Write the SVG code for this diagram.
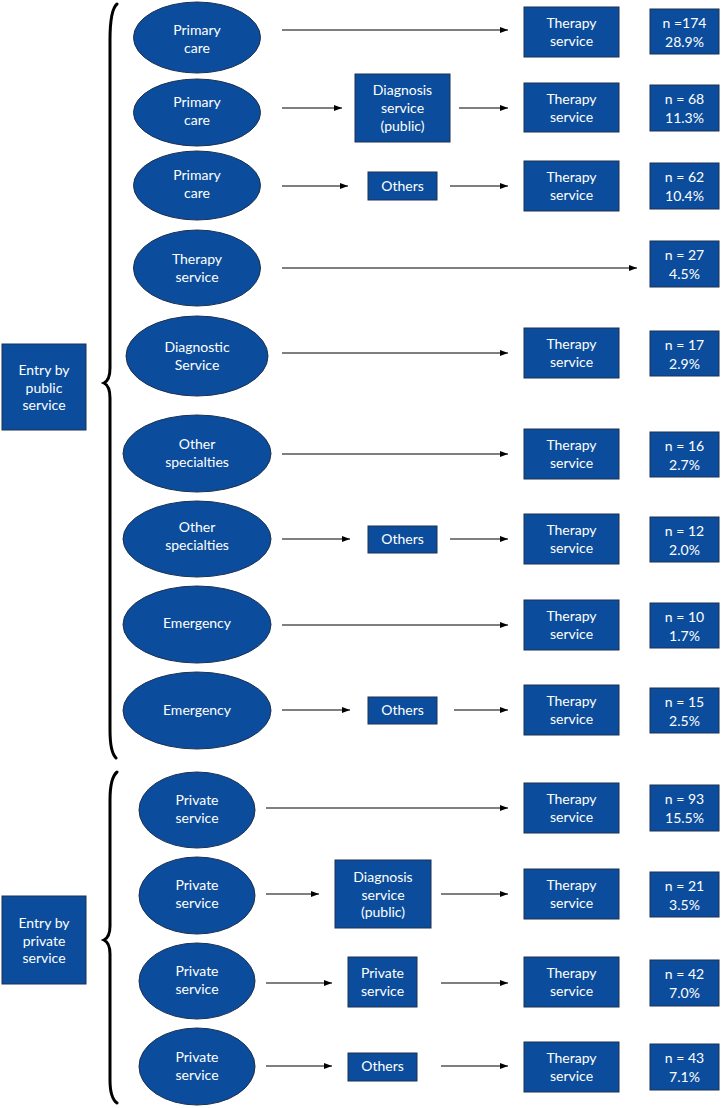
<svg xmlns="http://www.w3.org/2000/svg" width="721" height="1108" viewBox="0 0 721 1108">
<style>
.n{fill:#0b4d9c;stroke:#1c3050;stroke-width:1}
.t{fill:#ffffff;font-family:Lato,"Open Sans",sans-serif;font-size:14px;text-anchor:middle}
.c{stroke:#000;stroke-width:1.2;fill:none;marker-end:url(#ah)}
.b{stroke:#000;stroke-width:3;fill:none;stroke-linecap:round}
</style>
<defs>
<marker id="ah" markerUnits="userSpaceOnUse" markerWidth="9" markerHeight="7" refX="8" refY="3" orient="auto">
<path d="M0,0 L8,3 L0,6 z" fill="#000"/>
</marker>
</defs>
<rect width="721" height="1108" fill="#fff"/>

<g id="braces">
<path class="b" d="M117,4 Q110,10 110,40 L110,368 Q110,380 104,383 Q110,386 110,398 L110,730 Q110,752 116,758"/>
<path class="b" d="M117,772 Q110,778 110,800 L110,926 Q110,937 104,940 Q110,943 110,954 L110,1080 Q110,1098 117,1103"/>
</g>

<g id="connectors">
<line class="c" x1="282" y1="30" x2="508" y2="30"/>
<line class="c" x1="282" y1="108" x2="342" y2="108"/>
<line class="c" x1="459" y1="108" x2="508" y2="108"/>
<line class="c" x1="282" y1="186" x2="348" y2="186"/>
<line class="c" x1="450" y1="186" x2="508" y2="186"/>
<line class="c" x1="282" y1="268" x2="637" y2="268"/>
<line class="c" x1="282" y1="353" x2="508" y2="353"/>
<line class="c" x1="282" y1="454" x2="508" y2="454"/>
<line class="c" x1="282" y1="539" x2="350" y2="539"/>
<line class="c" x1="450" y1="539" x2="508" y2="539"/>
<line class="c" x1="282" y1="625" x2="508" y2="625"/>
<line class="c" x1="282" y1="710" x2="350" y2="710"/>
<line class="c" x1="454" y1="710" x2="508" y2="710"/>
<line class="c" x1="266" y1="808" x2="508" y2="808"/>
<line class="c" x1="266" y1="894" x2="319" y2="894"/>
<line class="c" x1="441" y1="894" x2="508" y2="894"/>
<line class="c" x1="266" y1="983" x2="332" y2="983"/>
<line class="c" x1="441" y1="983" x2="508" y2="983"/>
<line class="c" x1="266" y1="1066" x2="332" y2="1066"/>
<line class="c" x1="441" y1="1066" x2="508" y2="1066"/>
</g>

<g id="entry-public"><rect class="n" x="2" y="344" width="84" height="86"/><text class="t" x="44" y="375">Entry by<tspan x="44" dy="17.5">public</tspan><tspan x="44" dy="17.5">service</tspan></text></g>
<g id="entry-private"><rect class="n" x="2" y="896" width="84" height="88"/><text class="t" x="44" y="928">Entry by<tspan x="44" dy="17.5">private</tspan><tspan x="44" dy="17.5">service</tspan></text></g>

<!-- Row 1 -->
<g id="e1"><ellipse class="n" cx="197" cy="37.5" rx="63.5" ry="35.5"/><text class="t" x="197" y="35">Primary<tspan x="197" dy="18">care</tspan></text></g>
<g id="t1"><rect class="n" x="524" y="7" width="95" height="50"/><text class="t" x="571.5" y="28">Therapy<tspan x="571.5" dy="18">service</tspan></text></g>
<g id="n1"><rect class="n" x="650" y="9" width="69" height="45"/><text class="t" x="684.5" y="28">n =174<tspan x="684.5" dy="18.5">28.9%</tspan></text></g>

<!-- Row 2 -->
<g id="e2"><ellipse class="n" cx="197" cy="112.5" rx="63.5" ry="33.5"/><text class="t" x="197" y="107">Primary<tspan x="197" dy="18">care</tspan></text></g>
<g id="d2"><rect class="n" x="355" y="74" width="95" height="68"/><text class="t" x="402.5" y="95">Diagnosis<tspan x="402.5" dy="18">service</tspan><tspan x="402.5" dy="18">(public)</tspan></text></g>
<g id="t2"><rect class="n" x="524" y="83" width="95" height="49"/><text class="t" x="571.5" y="104">Therapy<tspan x="571.5" dy="18">service</tspan></text></g>
<g id="n2"><rect class="n" x="650" y="85" width="69" height="46"/><text class="t" x="684.5" y="104">n = 68<tspan x="684.5" dy="18.5">11.3%</tspan></text></g>

<!-- Row 3 -->
<g id="e3"><ellipse class="n" cx="197" cy="185.5" rx="63.5" ry="34.5"/><text class="t" x="197" y="180">Primary<tspan x="197" dy="18">care</tspan></text></g>
<g id="o3"><rect class="n" x="368" y="172" width="69" height="28"/><text class="t" x="402.5" y="191">Others</text></g>
<g id="t3"><rect class="n" x="524" y="161" width="95" height="50"/><text class="t" x="571.5" y="182">Therapy<tspan x="571.5" dy="18">service</tspan></text></g>
<g id="n3"><rect class="n" x="650" y="163" width="69" height="46"/><text class="t" x="684.5" y="182">n = 62<tspan x="684.5" dy="18.5">10.4%</tspan></text></g>

<!-- Row 4 -->
<g id="e4"><ellipse class="n" cx="197" cy="268" rx="63.5" ry="38"/><text class="t" x="197" y="264">Therapy<tspan x="197" dy="18">service</tspan></text></g>
<g id="n4"><rect class="n" x="650" y="241" width="69" height="46"/><text class="t" x="684.5" y="260">n = 27<tspan x="684.5" dy="18.5">4.5%</tspan></text></g>

<!-- Row 5 -->
<g id="e5"><ellipse class="n" cx="197" cy="356" rx="71" ry="40"/><text class="t" x="197" y="352">Diagnostic<tspan x="197" dy="18">Service</tspan></text></g>
<g id="t5"><rect class="n" x="524" y="328" width="95" height="50"/><text class="t" x="571.5" y="349">Therapy<tspan x="571.5" dy="18">service</tspan></text></g>
<g id="n5"><rect class="n" x="650" y="331" width="69" height="45"/><text class="t" x="684.5" y="350">n = 17<tspan x="684.5" dy="18.5">2.9%</tspan></text></g>

<!-- Row 6 -->
<g id="e6"><ellipse class="n" cx="197" cy="453.5" rx="74" ry="38.5"/><text class="t" x="197" y="449">Other<tspan x="197" dy="18">specialties</tspan></text></g>
<g id="t6"><rect class="n" x="524" y="429" width="95" height="50"/><text class="t" x="571.5" y="450">Therapy<tspan x="571.5" dy="18">service</tspan></text></g>
<g id="n6"><rect class="n" x="650" y="432" width="69" height="45"/><text class="t" x="684.5" y="451">n = 16<tspan x="684.5" dy="18.5">2.7%</tspan></text></g>

<!-- Row 7 -->
<g id="e7"><ellipse class="n" cx="197" cy="539" rx="74" ry="38"/><text class="t" x="197" y="532">Other<tspan x="197" dy="18">specialties</tspan></text></g>
<g id="o7"><rect class="n" x="368" y="526" width="69" height="27"/><text class="t" x="402.5" y="544">Others</text></g>
<g id="t7"><rect class="n" x="524" y="514" width="95" height="50"/><text class="t" x="571.5" y="535">Therapy<tspan x="571.5" dy="18">service</tspan></text></g>
<g id="n7"><rect class="n" x="650" y="517" width="69" height="45"/><text class="t" x="684.5" y="536">n = 12<tspan x="684.5" dy="18.5">2.0%</tspan></text></g>

<!-- Row 8 -->
<g id="e8"><ellipse class="n" cx="197" cy="624.5" rx="74" ry="38.5"/><text class="t" x="197" y="628">Emergency</text></g>
<g id="t8"><rect class="n" x="524" y="600" width="95" height="50"/><text class="t" x="571.5" y="621">Therapy<tspan x="571.5" dy="18">service</tspan></text></g>
<g id="n8"><rect class="n" x="650" y="603" width="69" height="45"/><text class="t" x="684.5" y="622">n = 10<tspan x="684.5" dy="18.5">1.7%</tspan></text></g>

<!-- Row 9 -->
<g id="e9"><ellipse class="n" cx="197" cy="710.5" rx="74" ry="38.5"/><text class="t" x="197" y="715">Emergency</text></g>
<g id="o9"><rect class="n" x="368" y="697" width="69" height="27"/><text class="t" x="402.5" y="715">Others</text></g>
<g id="t9"><rect class="n" x="524" y="685" width="95" height="50"/><text class="t" x="571.5" y="706">Therapy<tspan x="571.5" dy="18">service</tspan></text></g>
<g id="n9"><rect class="n" x="650" y="688" width="69" height="45"/><text class="t" x="684.5" y="707">n = 15<tspan x="684.5" dy="18.5">2.5%</tspan></text></g>

<!-- Row 10 -->
<g id="e10"><ellipse class="n" cx="197" cy="810" rx="58" ry="38"/><text class="t" x="197" y="805">Private<tspan x="197" dy="18">service</tspan></text></g>
<g id="t10"><rect class="n" x="524" y="783" width="95" height="50"/><text class="t" x="571.5" y="804">Therapy<tspan x="571.5" dy="18">service</tspan></text></g>
<g id="n10"><rect class="n" x="650" y="785" width="69" height="46"/><text class="t" x="684.5" y="804">n = 93<tspan x="684.5" dy="18.5">15.5%</tspan></text></g>

<!-- Row 11 -->
<g id="e11"><ellipse class="n" cx="197" cy="895.5" rx="58" ry="38.5"/><text class="t" x="197" y="890">Private<tspan x="197" dy="18">service</tspan></text></g>
<g id="d11"><rect class="n" x="335" y="860" width="96" height="68"/><text class="t" x="383" y="882">Diagnosis<tspan x="383" dy="17.5">service</tspan><tspan x="383" dy="17.5">(public)</tspan></text></g>
<g id="t11"><rect class="n" x="524" y="869" width="95" height="50"/><text class="t" x="571.5" y="890">Therapy<tspan x="571.5" dy="18">service</tspan></text></g>
<g id="n11"><rect class="n" x="650" y="872" width="69" height="45"/><text class="t" x="684.5" y="891">n = 21<tspan x="684.5" dy="18.5">3.5%</tspan></text></g>

<!-- Row 12 -->
<g id="e12"><ellipse class="n" cx="197" cy="981" rx="58" ry="38"/><text class="t" x="197" y="976">Private<tspan x="197" dy="18">service</tspan></text></g>
<g id="p12"><rect class="n" x="348" y="957" width="69" height="50"/><text class="t" x="382.5" y="978">Private<tspan x="382.5" dy="18">service</tspan></text></g>
<g id="t12"><rect class="n" x="524" y="957" width="95" height="50"/><text class="t" x="571.5" y="978">Therapy<tspan x="571.5" dy="18">service</tspan></text></g>
<g id="n12"><rect class="n" x="650" y="960" width="69" height="46"/><text class="t" x="684.5" y="979">n = 42<tspan x="684.5" dy="18.5">7.0%</tspan></text></g>

<!-- Row 13 -->
<g id="e13"><ellipse class="n" cx="197" cy="1066.5" rx="58" ry="38.5"/><text class="t" x="197" y="1062">Private<tspan x="197" dy="18">service</tspan></text></g>
<g id="o13"><rect class="n" x="348" y="1053" width="69" height="28"/><text class="t" x="382.5" y="1071">Others</text></g>
<g id="t13"><rect class="n" x="524" y="1042" width="95" height="50"/><text class="t" x="571.5" y="1063">Therapy<tspan x="571.5" dy="18">service</tspan></text></g>
<g id="n13"><rect class="n" x="650" y="1044" width="69" height="46"/><text class="t" x="684.5" y="1063">n = 43<tspan x="684.5" dy="18.5">7.1%</tspan></text></g>
</svg>
